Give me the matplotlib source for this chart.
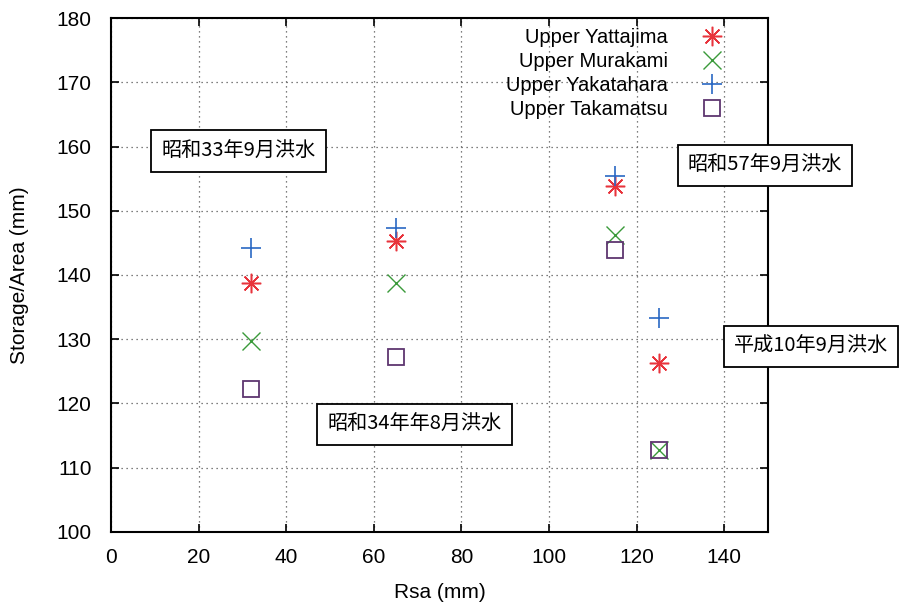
import matplotlib.pyplot as plt

plt.rcParams['font.family'] = ['Liberation Sans', 'Noto Sans CJK JP', 'DejaVu Sans']

# Rsa for the four floods
rsa = [32, 65, 115, 125]

# Storage/Area for each upper basin
yattajima = [138.8, 145.3, 153.9, 126.3]
murakami = [129.7, 138.8, 146.2, 112.8]
yakatahara = [144.2, 147.3, 155.4, 133.3]
takamatsu = [122.3, 127.2, 143.9, 112.8]

# flood labels and where they sit
flood_names = ["昭和33年9月洪水", "昭和34年年8月洪水", "昭和57年9月洪水", "平成10年9月洪水"]
flood_x = [29.1, 69.3, 149.3, 159.8]
flood_y = [159.3, 116.7, 157.0, 128.9]

fig = plt.figure(figsize=(9.09, 6.05), dpi=100)
ax = fig.add_axes([0.122, 0.121, 0.723, 0.849])

ax.plot(rsa, yattajima, linestyle='none', marker=(8, 2, 0), markersize=14,
        markeredgewidth=1.1, color='#e8343c', label='Upper Yattajima')
ax.plot(rsa, murakami, linestyle='none', marker='x', markersize=13,
        markeredgewidth=1.0, color='#3a9a3a', label='Upper Murakami')
ax.plot(rsa, yakatahara, linestyle='none', marker='+', markersize=15,
        markeredgewidth=1.2, color='#2a68c4', label='Upper Yakatahara')
ax.plot(rsa, takamatsu, linestyle='none', marker='s', markersize=12,
        markeredgewidth=1.3, markerfacecolor='none', color='#5e3670',
        label='Upper Takamatsu')

ax.set_xlim(0, 150)
ax.set_ylim(100, 180)
ax.set_xticks(range(0, 141, 20))
ax.set_yticks(range(100, 181, 10))
ax.tick_params(direction='in', top=True, right=True, labelsize=15, length=6, width=1.2)
ax.tick_params(axis='y', pad=14)
ax.tick_params(axis='x', pad=12)
ax.grid(True, color='#555555', linestyle=(0, (1, 3)), linewidth=0.9)
for s in ax.spines.values():
    s.set_linewidth(1.5)

ax.set_xlabel('Rsa (mm)', fontsize=15, labelpad=11)
ax.set_ylabel('Storage/Area (mm)', fontsize=15, labelpad=20)

ax.legend(loc='upper right', bbox_to_anchor=(0.952, 1.004), frameon=False,
          markerfirst=False, fontsize=14.5, handlelength=1.2, handletextpad=1.6,
          labelspacing=0.25, borderaxespad=0.2)

for name, fx, fy in zip(flood_names, flood_x, flood_y):
    ax.text(fx, fy, name, fontsize=14.5, family=['Noto Sans CJK JP', 'DejaVu Sans'],
            ha='center', va='center', zorder=10, clip_on=False,
            bbox=dict(boxstyle='square,pad=0.5', facecolor='white',
                      edgecolor='black', linewidth=1.3))

fig.savefig('out.png', dpi=100)
